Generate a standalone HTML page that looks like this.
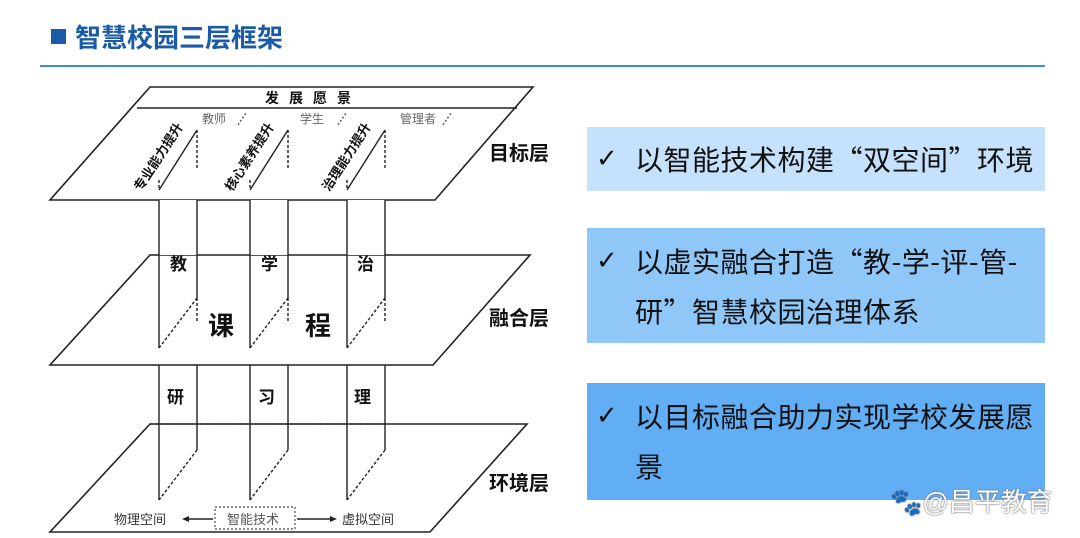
<!DOCTYPE html>
<html><head><meta charset="utf-8"><style>
body{margin:0;width:1080px;height:538px;background:#fff;overflow:hidden;position:relative;font-family:"Liberation Sans","Noto Sans CJK SC",sans-serif}
.t{position:absolute;left:75px;top:22px;font-size:26px;font-weight:bold;color:#1a5aa6;line-height:32px}
.sq{position:absolute;left:51px;top:29px;width:15px;height:15px;background:#1a5aa6}
.hl{position:absolute;left:40px;top:65px;width:1005px;height:2px;background:#3d8fcf}
.b{position:absolute;left:587px;width:458px;font-size:28px;color:#111;line-height:50px;box-sizing:border-box;padding-left:48px;font-family:"Noto Sans CJK SC",sans-serif;letter-spacing:0.5px;white-space:nowrap}
.b span{position:absolute;left:9px;font-size:26px;font-weight:bold;font-family:"DejaVu Sans",sans-serif}
.wm{position:absolute;left:890px;top:482px;font-size:26px;color:#fff;text-shadow:0 0 2px #777,0 0 1px #555}
</style></head><body>
<div class="sq"></div><div class="t">智慧校园三层框架</div><div class="hl"></div>
<svg width="1080" height="538" style="position:absolute;left:0;top:0" font-family="Liberation Sans,Noto Sans CJK SC,sans-serif">
<g stroke="#222" stroke-width="1.6" fill="none">
<polygon points="150,87 533,87 435,200 50,200" fill="#fff"/>
<line x1="137" y1="108" x2="517" y2="108"/>
<polygon points="150,255 530,255 433,365 50,365" fill="#fff"/>
<polygon points="150,424 527,424 430,532 50,532" fill="#fff"/>
</g>
<g stroke="#222" stroke-width="1.4" fill="none">
<g id="up">
<rect x="159" y="200" width="38" height="55" fill="#fff" stroke="none"/>
<line x1="159" y1="200" x2="159" y2="348"/>
<line x1="197" y1="200" x2="197" y2="298"/>
<line x1="197" y1="298" x2="197" y2="323" stroke-dasharray="3,2"/>
<line x1="159" y1="348" x2="197" y2="298" stroke-dasharray="3,2"/>
</g>
<use href="#up" x="91"/><use href="#up" x="188"/>
<g id="tp">
<line x1="159" y1="190" x2="197" y2="130"/>
<line x1="197" y1="130" x2="197" y2="170" stroke-dasharray="3,2"/>
<line x1="159" y1="180" x2="159" y2="190" stroke-dasharray="3,2"/>
</g>
<use href="#tp" x="91"/><use href="#tp" x="188"/>
<g id="lp">
<line x1="159" y1="365" x2="159" y2="500"/>
<line x1="197" y1="365" x2="197" y2="450"/>
<line x1="197" y1="450" x2="159" y2="500" stroke-dasharray="3,2"/>
</g>
<use href="#lp" x="91"/><use href="#lp" x="188"/>
<line x1="150" y1="424" x2="385" y2="424" stroke-dasharray="3,2" stroke="#333"/>
<line x1="238" y1="125" x2="246" y2="113" stroke-dasharray="2,2" stroke="#555"/>
<line x1="338" y1="125" x2="346" y2="113" stroke-dasharray="2,2" stroke="#555"/>
<line x1="443" y1="125" x2="451" y2="113" stroke-dasharray="2,2" stroke="#555"/>
<rect x="215" y="507" width="80" height="22" stroke-dasharray="2,2" stroke="#666" fill="#fff"/>
<line x1="213" y1="519" x2="186" y2="519"/>
<line x1="297" y1="519" x2="333" y2="519"/>
</g>
<polygon points="182,519 189,516 189,522" fill="#222"/>
<polygon points="337,519 330,516 330,522" fill="#222"/>
<g fill="#111" font-weight="bold" font-size="14">
<text x="265" y="103" letter-spacing="10">发展愿景</text>
</g>
<g fill="#666" font-size="12">
<text x="202" y="123">教师</text><text x="300" y="123">学生</text><text x="400" y="123">管理者</text>
</g>
<g fill="#111" font-weight="bold" font-size="13">
<text transform="translate(141,192) rotate(-57)">专业能力提升</text>
<text transform="translate(232,192) rotate(-57)">核心素养提升</text>
<text transform="translate(329,192) rotate(-57)">治理能力提升</text>
</g>
<g fill="#111" font-weight="bold" font-size="17">
<text x="170" y="270">教</text><text x="261" y="270">学</text><text x="357" y="270">治</text>
<text x="167" y="403">研</text><text x="258" y="403">习</text><text x="354" y="403">理</text>
</g>
<g fill="#111" font-weight="bold" font-size="26">
<text x="208" y="335">课</text><text x="305" y="335">程</text>
</g>
<g fill="#111" font-weight="bold" font-size="20">
<text x="489" y="160">目标层</text><text x="489" y="325">融合层</text><text x="489" y="490">环境层</text>
</g>
<g fill="#333" font-size="13">
<text x="114" y="524">物理空间</text><text x="227" y="524" fill="#555">智能技术</text><text x="342" y="524">虚拟空间</text>
</g>
</svg>
<div class="b" style="top:127px;height:64px;background:#c6e1fb;padding-top:7px"><span style="top:7px">✓</span>以智能技术构建“双空间”环境</div>
<div class="b" style="top:228px;height:115px;background:#8fc7f9;padding-top:8px"><span style="top:8px">✓</span>以虚实融合打造“教-学-评-管-<br>研”智慧校园治理体系</div>
<div class="b" style="top:383px;height:117px;background:#62aef5;padding-top:8px"><span style="top:8px">✓</span>以目标融合助力实现学校发展愿<br>景</div>
<div class="wm">🐾@昌平教育</div>
</body></html>
